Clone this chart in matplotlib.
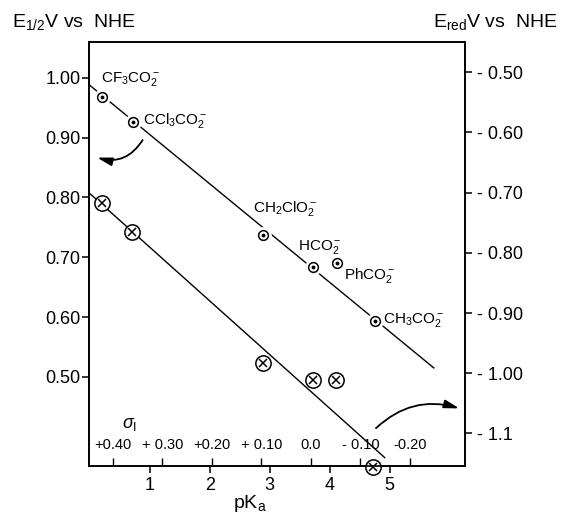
import numpy as np
import matplotlib
matplotlib.use("Agg")
import matplotlib.pyplot as plt

plt.rcParams["font.family"] = ["Liberation Sans", "DejaVu Sans"]
plt.rcParams["mathtext.fontset"] = "custom"
plt.rcParams["mathtext.rm"] = "Liberation Sans"
plt.rcParams["mathtext.it"] = "Liberation Sans:italic"
plt.rcParams["mathtext.bf"] = "Liberation Sans:bold"

# upper series: carboxylates (circle-dot)
anion_labels = [r"CF$_3$CO$_2^-$", r"CCl$_3$CO$_2^-$", r"CH$_2$ClO$_2^-$",
                r"HCO$_2^-$", r"PhCO$_2^-$", r"CH$_3$CO$_2^-$"]
anion_pka = [0.20, 0.72, 2.89, 3.72, 4.12, 4.75]
anion_e12 = [0.968, 0.926, 0.737, 0.684, 0.691, 0.594]

# lower series: E_red (circle-x)
red_pka = [0.20, 0.70, 2.89, 3.72, 4.10, 4.72]
red_e = [0.790, 0.743, 0.523, 0.495, 0.495, 0.349]

# drawn correlation lines (end points)
upper_line_pka = [0.0, 5.74]
upper_line_e = [0.987, 0.515]
lower_line_pka = [0.0, 4.92]
lower_line_e = [0.806, 0.365]

left_ticks = [0.50, 0.60, 0.70, 0.80, 0.90, 1.00]
left_ticklabels = ["0.50", "0.60", "0.70", "0.80", "0.90", "1.00"]
right_ticks = [-0.50, -0.60, -0.70, -0.80, -0.90, -1.00, -1.10]
right_ticklabels = ["- 0.50", "- 0.60", "- 0.70", "- 0.80", "- 0.90", "- 1.00", "- 1.1"]
pka_ticks = [1, 2, 3, 4, 5]
sigma_ticks = [0.40, 0.30, 0.20, 0.10, 0.0, -0.10, -0.20]
sigma_ticklabels = ["+0.40", "+ 0.30", "+0.20", "+ 0.10", "0.0", "- 0.10", "-0.20"]

# label offsets (points) from their markers
label_offsets = [(-1, 13), (7, 1.5), (-7, 19), (-11, 14), (5, -9), (6, 0.5)]

fig = plt.figure(figsize=(5.67, 5.14), dpi=100)
ax = fig.add_axes([0.157, 0.0934, 0.663, 0.8249])
ax.set_xlim(-0.02, 6.26)
ax.set_ylim(0.351, 1.060)

for s in ax.spines.values():
    s.set_linewidth(1.2)

ax.plot(upper_line_pka, upper_line_e, color="black", lw=1.0, zorder=2)
ax.plot(lower_line_pka, lower_line_e, color="black", lw=1.0, zorder=2)

# white halo so the upper line breaks near its markers
ax.plot(anion_pka, anion_e12, "o", ms=12, mfc="white", mec="none", zorder=3)
ax.plot(anion_pka, anion_e12, "o", ms=7, mfc="white", mec="black", mew=1.1, zorder=4)
ax.plot(anion_pka, anion_e12, "o", ms=1.8, color="black", zorder=5)

ax.plot(red_pka, red_e, "o", ms=11, mfc="white", mec="black", mew=1.1, zorder=4, clip_on=False)
ax.plot(red_pka, red_e, "x", ms=5.5, color="black", mew=1.1, zorder=5, clip_on=False)

for lab, x, y, off in zip(anion_labels, anion_pka, anion_e12, label_offsets):
    ax.annotate(lab, (x, y), xytext=off, textcoords="offset points",
                ha="left", va="center", fontsize=11)

ax.set_yticks(left_ticks)
ax.set_yticklabels(left_ticklabels)
ax.set_xticks(pka_ticks)
ax.tick_params(axis="y", direction="out", length=5, width=1.1, pad=1, labelsize=13)
ax.tick_params(axis="x", direction="out", length=5, width=1.1, pad=3, labelsize=13)

ax2 = ax.twinx()
ax2.set_ylim(-1.154, -0.450)
ax2.set_yticks(right_ticks)
ax2.set_yticklabels(right_ticklabels)
ax2.tick_params(axis="y", direction="out", length=5, width=1.1, pad=4, labelsize=13)
for s in ax2.spines.values():
    s.set_linewidth(1.2)

# sigma_I scale along the bottom edge
def pka_to_sigma(p):
    return 0.40 - (p - 0.38) / 8.27

def sigma_to_pka(s):
    return 0.38 + (0.40 - s) * 8.27

sec = ax.secondary_xaxis(0, functions=(pka_to_sigma, sigma_to_pka))
sec.set_xticks(sigma_ticks)
sec.set_xticklabels(sigma_ticklabels)
sec.tick_params(axis="x", which="major", top=True, bottom=False, labeltop=True,
                labelbottom=False, direction="out", length=6, width=1.0,
                color="black", pad=4, labelsize=10.5)
sec.spines["top"].set_visible(False)
sec.spines["bottom"].set_visible(False)

ax.text(0.109, 0.097, r"$\sigma_{\mathrm{I}}$", transform=ax.transAxes, ha="center",
        va="center", fontsize=13)

# curved arrows pointing to the relevant axis
ax.annotate("", xy=(0.07, 0.868), xytext=(0.90, 0.900),
            arrowprops=dict(arrowstyle="-|>,head_length=0.9,head_width=0.25",
                            connectionstyle="arc3,rad=-0.4", color="black", lw=1.3),
            annotation_clip=False)
ax.annotate("", xy=(6.21, 0.446), xytext=(4.74, 0.411),
            arrowprops=dict(arrowstyle="-|>,head_length=0.9,head_width=0.25",
                            connectionstyle="arc3,rad=-0.3", color="black", lw=1.3),
            annotation_clip=False)

fig.text(0.021, 0.957, r"E$_{1/2}$V vs  NHE", ha="left", va="center", fontsize=14)
fig.text(0.764, 0.957, r"E$_{\mathrm{red}}$V vs  NHE", ha="left", va="center", fontsize=14)
fig.text(0.441, 0.021, r"pK$_{\mathrm{a}}$", ha="center", va="center", fontsize=14)

fig.savefig("out.png", dpi=100)
